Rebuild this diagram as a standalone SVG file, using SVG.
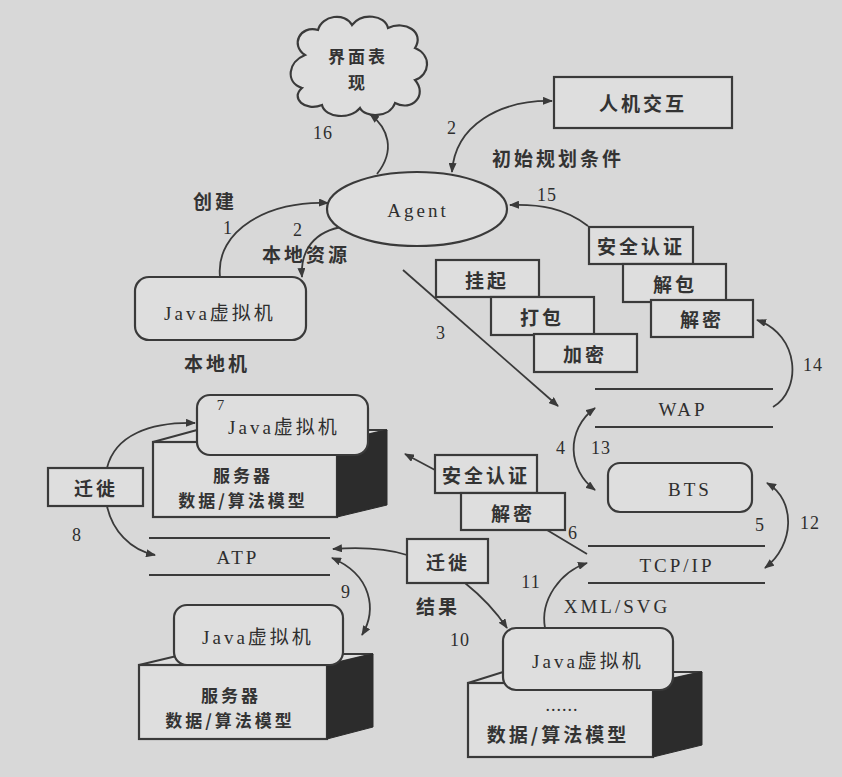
<svg xmlns="http://www.w3.org/2000/svg" width="842" height="777" viewBox="0 0 842 777">
<defs>
<marker id="ah" viewBox="0 0 10 8" refX="9" refY="4" markerWidth="10" markerHeight="8" markerUnits="userSpaceOnUse" orient="auto-start-reverse">
<path d="M0,0 L10,4 L0,8 Z" fill="#3a3a3a"/>
</marker>
</defs>
<style>
.bg{fill:#d8d8d8}
.box{fill:#dedede;stroke:#3a3a3a;stroke-width:2.2}
.dark{fill:#2c2c2c;stroke:#2c2c2c;stroke-width:1}
.ln{fill:none;stroke:#3a3a3a;stroke-width:2}
.c{fill:none;stroke:#3a3a3a;stroke-width:1.8}
.t{font-family:"Liberation Serif","Noto Sans CJK SC",serif;font-size:19px;fill:#2e2e2e;text-anchor:middle;dominant-baseline:central;letter-spacing:3px}
.cn{font-family:"Noto Sans CJK SC",sans-serif;font-size:19px;fill:#333;text-anchor:middle;dominant-baseline:central;letter-spacing:3px;font-weight:bold}
.cs{font-family:"Noto Sans CJK SC",sans-serif;font-size:17px;fill:#333;text-anchor:middle;dominant-baseline:central;letter-spacing:3px;font-weight:bold}
.n{font-family:"Liberation Serif",serif;font-size:18px;fill:#2e2e2e;text-anchor:middle;dominant-baseline:central;letter-spacing:1px}
</style>
<rect class="bg" x="0" y="0" width="842" height="777"/>

<g id="connectors">
<path class="c" d="M377,174 C396,150 388,128 370,114" marker-end="url(#ah)"/>
<path class="c" d="M452,172 C455,125 500,100 552,101" marker-start="url(#ah)" marker-end="url(#ah)"/>
<path class="c" d="M588,226 C565,208 540,204 510,205" marker-end="url(#ah)"/>
<path class="c" d="M220,277 C215,230 270,200 328,203" marker-end="url(#ah)"/>
<path class="c" d="M302,277 C300,245 320,228 350,226" marker-start="url(#ah)" marker-end="url(#ah)"/>
<path class="c" d="M403,270 L558,406" marker-end="url(#ah)"/>
<path class="c" d="M773,407 C802,390 800,335 757,320" marker-end="url(#ah)"/>
<path class="c" d="M595,408 C565,430 568,470 595,490" marker-start="url(#ah)" marker-end="url(#ah)"/>
<path class="c" d="M767,483 C796,500 795,545 765,568" marker-start="url(#ah)" marker-end="url(#ah)"/>
<path class="c" d="M435,470 L405,454" marker-end="url(#ah)"/>
<path class="c" d="M547,530 L587,554"/>
<path class="c" d="M407,555 C385,548 360,547 333,549" marker-end="url(#ah)"/>
<path class="c" d="M465,583 C480,595 495,610 507,628" marker-end="url(#ah)"/>
<path class="c" d="M545,628 C540,600 560,572 587,563" marker-end="url(#ah)"/>
<path class="c" d="M332,558 C372,575 377,610 362,635" marker-start="url(#ah)" marker-end="url(#ah)"/>
<path class="c" d="M107,468 C115,435 150,422 195,423" marker-end="url(#ah)"/>
<path class="c" d="M107,506 C112,530 130,550 155,555" marker-end="url(#ah)"/>
</g>

<g id="cloud">
<path class="box" d="M305,55 C290,45 300,25 318,30 C322,15 345,12 352,25 C362,12 385,15 388,28 C405,20 425,32 415,48 C432,55 430,75 415,80 C428,95 412,112 395,103 C390,118 365,118 360,108 C350,120 325,118 322,105 C305,112 290,98 302,88 C285,82 288,62 305,55 Z"/>
<text class="cs" x="358" y="55">界面表</text>
<text class="cs" x="358" y="81">现</text>
</g>

<g id="agent">
<ellipse class="box" cx="417" cy="209" rx="90" ry="37"/>
<text class="t" x="418" y="210">Agent</text>
</g>

<g id="hci">
<rect class="box" x="554" y="77" width="178" height="51"/>
<text class="cn" x="643" y="102">人机交互</text>
</g>

<g id="local-jvm">
<rect class="box" x="135" y="277" width="171" height="63" rx="14"/>
<text class="t" x="220" y="313">Java虚拟机</text>
<text class="cn" x="217" y="362">本地机</text>
</g>

<g id="pack-stack">
<rect class="box" x="436" y="260" width="103" height="37"/>
<text class="cn" x="487" y="279">挂起</text>
<rect class="box" x="491" y="297" width="103" height="38"/>
<text class="cn" x="542" y="316">打包</text>
<rect class="box" x="534" y="334" width="103" height="38"/>
<text class="cn" x="585" y="353">加密</text>
</g>

<g id="unpack-stack">
<rect class="box" x="589" y="227" width="104" height="37"/>
<text class="cn" x="641" y="245">安全认证</text>
<rect class="box" x="623" y="264" width="103" height="38"/>
<text class="cn" x="675" y="283">解包</text>
<rect class="box" x="651" y="300" width="102" height="37"/>
<text class="cn" x="702" y="318">解密</text>
</g>

<g id="wap">
<line class="ln" x1="595" y1="389" x2="773" y2="389"/>
<line class="ln" x1="595" y1="427" x2="773" y2="427"/>
<text class="t" x="683" y="409">WAP</text>
</g>

<g id="bts">
<rect class="box" x="608" y="463" width="144" height="49" rx="12"/>
<text class="t" x="690" y="489">BTS</text>
</g>

<g id="tcpip">
<line class="ln" x1="588" y1="546" x2="765" y2="546"/>
<line class="ln" x1="588" y1="583" x2="765" y2="583"/>
<text class="t" x="677" y="565">TCP/IP</text>
</g>

<g id="mid-sec">
<rect class="box" x="435" y="455" width="102" height="38"/>
<text class="cn" x="486" y="474">安全认证</text>
<rect class="box" x="461" y="493" width="104" height="37"/>
<text class="cn" x="513" y="512">解密</text>
</g>

<g id="mid-migrate">
<rect class="box" x="407" y="539" width="81" height="44"/>
<text class="cn" x="448" y="561">迁徙</text>
<text class="cn" x="438" y="605">结果</text>
</g>

<g id="atp">
<line class="ln" x1="149" y1="538" x2="330" y2="538"/>
<line class="ln" x1="149" y1="575" x2="330" y2="575"/>
<text class="t" x="238" y="557">ATP</text>
</g>

<g id="left-migrate">
<rect class="box" x="48" y="468" width="95" height="38"/>
<text class="cn" x="96" y="487">迁徙</text>
</g>

<g id="server-top">
<polygon class="box" points="153,442 197,430 387,430 337,442"/>
<rect class="box" x="153" y="442" width="184" height="75"/>
<polygon class="dark" points="337,442 387,430 387,505 337,517"/>
<rect class="box" x="197" y="395" width="171" height="60" rx="13"/>
<text class="t" x="284" y="427">Java虚拟机</text>
<text class="cs" x="243" y="474">服务器</text>
<text class="cs" x="243" y="499">数据/算法模型</text>
</g>

<g id="server-bottom">
<polygon class="box" points="139,665 185,654 373,654 327,665"/>
<rect class="box" x="139" y="665" width="188" height="74"/>
<polygon class="dark" points="327,665 373,654 373,727 327,739"/>
<rect class="box" x="174" y="605" width="169" height="60" rx="13"/>
<text class="t" x="258" y="637">Java虚拟机</text>
<text class="cs" x="231" y="694">服务器</text>
<text class="cs" x="230" y="719">数据/算法模型</text>
</g>

<g id="server-right">
<polygon class="box" points="468,683 503,672 702,672 653,683"/>
<rect class="box" x="468" y="683" width="185" height="74"/>
<polygon class="dark" points="653,683 702,672 702,745 653,757"/>
<rect class="box" x="503" y="628" width="170" height="62" rx="13"/>
<text class="t" x="588" y="661">Java虚拟机</text>
<text class="n" x="562" y="705">......</text>
<text class="cn" x="558" y="733">数据/算法模型</text>
</g>

<g id="labels">
<text class="n" x="323" y="133">16</text>
<text class="n" x="452" y="128">2</text>
<text class="cn" x="558" y="157">初始规划条件</text>
<text class="n" x="547" y="195">15</text>
<text class="cn" x="215" y="200">创建</text>
<text class="n" x="228" y="228">1</text>
<text class="n" x="298" y="230">2</text>
<text class="cn" x="306" y="253">本地资源</text>
<text class="n" x="441" y="333">3</text>
<text class="n" x="813" y="365">14</text>
<text class="n" x="561" y="448">4</text>
<text class="n" x="601" y="448">13</text>
<text class="n" x="760" y="525">5</text>
<text class="n" x="810" y="523">12</text>
<text class="n" x="573" y="533">6</text>
<text class="n" x="531" y="582">11</text>
<text class="t" x="617" y="606">XML/SVG</text>
<text class="n" x="460" y="640">10</text>
<text class="n" x="346" y="592">9</text>
<text class="n" x="77" y="535">8</text>
<text class="n" x="221" y="405" style="font-size:15px">7</text>
</g>
</svg>
